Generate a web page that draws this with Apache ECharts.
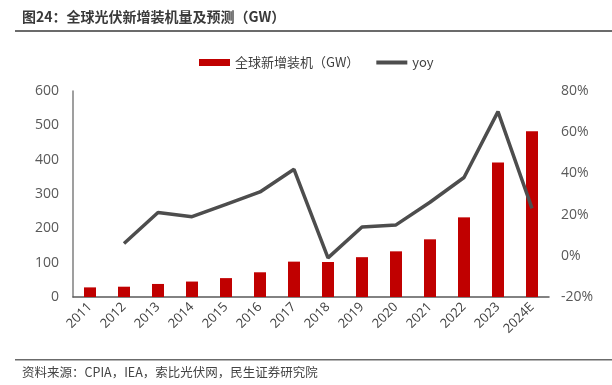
<!DOCTYPE html>
<html><head><meta charset="utf-8">
<script src="https://cdn.jsdelivr.net/npm/echarts@6/dist/echarts.min.js"></script>
<style>html,body{margin:0;padding:0;background:#fff}#c{width:612px;height:385px}</style>
</head><body><div id="c"></div>
<script>
const categories = ['2011','2012','2013','2014','2015','2016','2017','2018','2019','2020','2021','2022','2023','2024E'];
const installed = [28, 30, 38, 45, 55, 72, 103, 102, 116, 133, 168, 232, 392, 483];
const yoy = [null, 6, 21, 19, 25, 31, 42, -1, 14, 15, 26, 38, 70, 23];
const leftTicks = [0, 100, 200, 300, 400, 500, 600];
const rightTicks = [-20, 0, 20, 40, 60, 80];

const FONT = '"Open Sans","Noto Sans CJK SC",sans-serif';
const chart = echarts.init(document.getElementById('c'));
chart.setOption({
  animation: false,
  backgroundColor: '#fff',
  textStyle: { fontFamily: FONT },
  graphic: [
    { type: 'text', left: 22, top: 10, style: { text: '图24：全球光伏新增装机量及预测（GW）', font: 'bold 14px "Noto Sans CJK SC",sans-serif', fill: '#3a3a3a' } },
    { type: 'rect', shape: { x: 15, y: 30, width: 597, height: 2 }, style: { fill: '#6b6b6b' } },
    { type: 'rect', shape: { x: 15, y: 359, width: 597, height: 1.5 }, style: { fill: '#6b6b6b' } },
    { type: 'text', left: 22, top: 366, style: { text: '资料来源：CPIA，IEA，索比光伏网，民生证券研究院', font: '12.5px "Noto Sans CJK SC",sans-serif', fill: '#444' } }
  ],
  legend: {
    top: 51, left: 194,
    itemGap: 17,
    itemWidth: 31, itemHeight: 7,
    textStyle: { fontSize: 13, color: '#404040', fontFamily: '"Noto Sans CJK SC",sans-serif' },
    data: [
      { name: '全球新增装机（GW）', icon: 'rect' },
      { name: 'yoy', icon: 'path://M0,0 L31,0 L31,4 L0,4 Z' }
    ]
  },
  grid: { left: 73, right: 63, top: 91, bottom: 88, containLabel: false },
  xAxis: {
    type: 'category', data: categories,
    axisLine: { lineStyle: { color: '#595959', width: 1.5 } },
    axisTick: { show: false },
    axisLabel: { rotate: 45, color: '#404040', fontSize: 13, margin: 8, interval: 0 }
  },
  yAxis: [
    { type: 'value', min: leftTicks[0], max: leftTicks[leftTicks.length-1], interval: 100,
      splitLine: { show: false },
      axisLine: { show: true, lineStyle: { color: '#7f7f7f', width: 1.5 } },
      axisTick: { show: false },
      axisLabel: { color: '#595959', fontSize: 14, margin: 14 } },
    { type: 'value', min: rightTicks[0], max: rightTicks[rightTicks.length-1], interval: 20,
      splitLine: { show: false },
      axisLine: { show: false }, axisTick: { show: false },
      axisLabel: { color: '#595959', fontSize: 14, margin: 12, formatter: v => v + '%' } }
  ],
  series: [
    { name: '全球新增装机（GW）', type: 'bar', data: installed, barWidth: 12,
      itemStyle: { color: '#c00000' } },
    { name: 'yoy', type: 'line', yAxisIndex: 1, data: yoy, symbol: 'none',
      lineStyle: { color: '#4d4d4d', width: 3.5 }, itemStyle: { color: '#4d4d4d' } }
  ]
});
</script></body></html>
